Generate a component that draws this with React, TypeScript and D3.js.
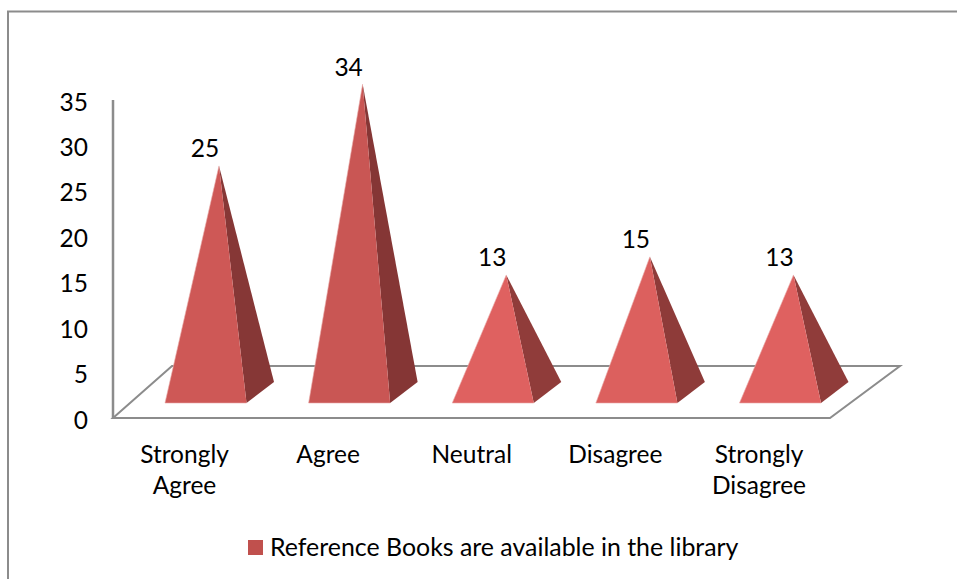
import React from "react";
import * as d3 from "d3";

const categories = ["Strongly Agree", "Agree", "Neutral", "Disagree", "Strongly Disagree"];
const categoryLines = [["Strongly", "Agree"], ["Agree"], ["Neutral"], ["Disagree"], ["Strongly", "Disagree"]];
const values = [25, 34, 13, 15, 13];
const yTicks = [0, 5, 10, 15, 20, 25, 30, 35];
const legendLabel = "Reference Books are available in the library";

const FONT = "Lato, 'Open Sans', sans-serif";
const GRAY = "#8c8c8c";

const x = d3.scalePoint<string>().domain(categories).range([184.5, 759]);
const y = d3.scaleLinear().domain([0, 35]).range([418, 100]);
const frontFill = d3.scaleLinear<string>().domain([13, 25, 34]).range(["#df6160", "#ce5856", "#c95654"]);
const sideFill = d3.scaleLinear<string>().domain([13, 25, 34]).range(["#903c3a", "#863736", "#853635"]);
const poly = d3.line<[number, number]>();

export default function App() {
  const floor: [number, number][] = [[113, 418], [830, 418], [900, 366], [172, 366]];
  return (
    <svg width={957} height={579} style={{ position: "absolute", left: 0, top: 0, background: "#fff" }} fontFamily={FONT}>
      <path d="M8 579V11.5H957" fill="none" stroke={GRAY} strokeWidth={2} />
      <line x1={113} y1={100} x2={113} y2={418} stroke={GRAY} strokeWidth={2.5} />
      <path d={poly(floor)! + "Z"} fill="none" stroke={GRAY} strokeWidth={2} />
      {yTicks.map((t) => (
        <text key={t} x={88} y={y(t) + 2} dy="0.35em" textAnchor="end" fontSize={24.5} fill="#000">{t}</text>
      ))}
      {categories.map((c, i) => {
        const cx = x(c)!;
        const v = values[i];
        const apex: [number, number] = [cx + 34.5, y(v) - 25];
        const fl: [number, number] = [cx - 19.5, 403];
        const fr: [number, number] = [cx + 62, 403];
        const br: [number, number] = [cx + 89.5, 382];
        return (
          <g key={c}>
            <path d={poly([apex, fr, br])! + "Z"} fill={sideFill(v)} />
            <path d={poly([apex, fl, fr])! + "Z"} fill={frontFill(v)} />
            <path d={poly([apex, fl, fr])!} fill="none" stroke="#e9a9a8" strokeWidth={0.6} />
            <text x={cx + 20.5} y={apex[1] - 17} dy="0.35em" textAnchor="middle" fontSize={24.5} fill="#000">{v}</text>
            {categoryLines[i].map((l, j) => (
              <text key={l} x={cx} y={454 + j * 31} dy="0.35em" textAnchor="middle" fontSize={24.5} fill="#000">{l}</text>
            ))}
          </g>
        );
      })}
      <rect x={248} y={540} width={15} height={15} fill="#c0504d" />
      <text x={270} y={547} dy="0.35em" fontSize={24.9} fill="#000">{legendLabel}</text>
    </svg>
  );
}
